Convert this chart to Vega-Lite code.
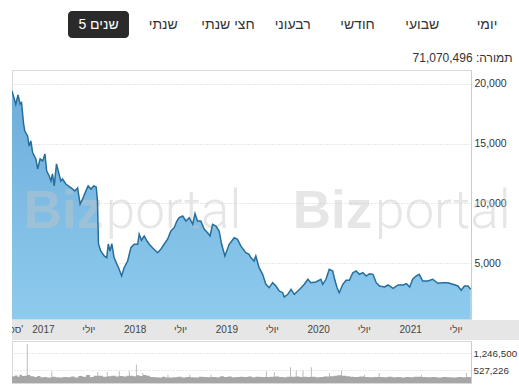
{
  "$schema": "https://vega.github.io/schema/vega-lite/v6.json",
  "padding": {"left": 11, "top": 0, "right": 0, "bottom": 0},
  "spacing": 0,
  "background": "white",
  "config": {"view": {"stroke": null}, "font": "Liberation Sans"},
  "resolve": {"scale": {"x": "independent", "y": "independent"}},
  "datasets": {
    "tabs": [
      {"tab": "יומי"}, {"tab": "שבועי"}, {"tab": "חודשי"}, {"tab": "רבעוני"},
      {"tab": "חצי שנתי"}, {"tab": "שנתי"}, {"tab": "5 שנים"}
    ],
    "ticks": [
      {"date": "2016-09-01", "label": "ספט'"},
      {"date": "2017-01-01", "label": "2017"},
      {"date": "2017-07-01", "label": "יולי"},
      {"date": "2018-01-01", "label": "2018"},
      {"date": "2018-07-01", "label": "יולי"},
      {"date": "2019-01-01", "label": "2019"},
      {"date": "2019-07-01", "label": "יולי"},
      {"date": "2020-01-01", "label": "2020"},
      {"date": "2020-07-01", "label": "יולי"},
      {"date": "2021-01-01", "label": "2021"},
      {"date": "2021-07-01", "label": "יולי"}
    ],
    "price": [
      {"date": "2016-08-29", "price": 19420},
      {"date": "2016-09-05", "price": 18900},
      {"date": "2016-09-13", "price": 18300},
      {"date": "2016-09-22", "price": 19080},
      {"date": "2016-09-30", "price": 18330},
      {"date": "2016-10-06", "price": 18440},
      {"date": "2016-10-14", "price": 16650},
      {"date": "2016-10-19", "price": 16060},
      {"date": "2016-10-30", "price": 15645},
      {"date": "2016-11-05", "price": 14800},
      {"date": "2016-11-12", "price": 15230},
      {"date": "2016-11-19", "price": 14250},
      {"date": "2016-12-02", "price": 13720},
      {"date": "2016-12-09", "price": 12880},
      {"date": "2016-12-19", "price": 13720},
      {"date": "2016-12-29", "price": 13550},
      {"date": "2017-01-07", "price": 14140},
      {"date": "2017-01-14", "price": 12710},
      {"date": "2017-01-24", "price": 12290},
      {"date": "2017-01-31", "price": 11875},
      {"date": "2017-02-06", "price": 12460},
      {"date": "2017-02-13", "price": 11460},
      {"date": "2017-02-22", "price": 13300},
      {"date": "2017-03-01", "price": 12710},
      {"date": "2017-03-11", "price": 11875},
      {"date": "2017-03-18", "price": 12040},
      {"date": "2017-03-31", "price": 11620},
      {"date": "2017-04-20", "price": 11310},
      {"date": "2017-05-06", "price": 11040},
      {"date": "2017-05-17", "price": 11290},
      {"date": "2017-05-27", "price": 9920},
      {"date": "2017-06-06", "price": 10370},
      {"date": "2017-06-19", "price": 11040},
      {"date": "2017-06-28", "price": 11460},
      {"date": "2017-07-09", "price": 11200},
      {"date": "2017-07-20", "price": 11460},
      {"date": "2017-07-30", "price": 11370},
      {"date": "2017-08-04", "price": 10200},
      {"date": "2017-08-08", "price": 6595},
      {"date": "2017-08-17", "price": 6010},
      {"date": "2017-08-31", "price": 5590},
      {"date": "2017-09-10", "price": 5450},
      {"date": "2017-09-16", "price": 6595},
      {"date": "2017-09-23", "price": 6010},
      {"date": "2017-09-30", "price": 6620},
      {"date": "2017-10-09", "price": 5450},
      {"date": "2017-10-20", "price": 4920},
      {"date": "2017-10-29", "price": 4500},
      {"date": "2017-11-08", "price": 3915},
      {"date": "2017-11-18", "price": 4610},
      {"date": "2017-12-02", "price": 5170},
      {"date": "2017-12-15", "price": 6285},
      {"date": "2017-12-28", "price": 6570},
      {"date": "2018-01-11", "price": 6570},
      {"date": "2018-01-17", "price": 7410},
      {"date": "2018-01-26", "price": 6905},
      {"date": "2018-02-06", "price": 7265},
      {"date": "2018-02-17", "price": 6845},
      {"date": "2018-02-26", "price": 6570},
      {"date": "2018-03-11", "price": 6285},
      {"date": "2018-03-31", "price": 5866},
      {"date": "2018-04-13", "price": 6150},
      {"date": "2018-04-26", "price": 6570},
      {"date": "2018-05-10", "price": 6990},
      {"date": "2018-05-23", "price": 7684},
      {"date": "2018-06-05", "price": 7960},
      {"date": "2018-06-16", "price": 8520},
      {"date": "2018-06-25", "price": 8800},
      {"date": "2018-07-09", "price": 8940},
      {"date": "2018-07-22", "price": 8520},
      {"date": "2018-08-04", "price": 8800},
      {"date": "2018-08-18", "price": 8245},
      {"date": "2018-08-27", "price": 9135},
      {"date": "2018-09-06", "price": 8520},
      {"date": "2018-09-19", "price": 8520},
      {"date": "2018-10-03", "price": 7825},
      {"date": "2018-10-16", "price": 7540},
      {"date": "2018-10-26", "price": 7265},
      {"date": "2018-11-05", "price": 8245},
      {"date": "2018-11-18", "price": 8100},
      {"date": "2018-12-01", "price": 7684},
      {"date": "2018-12-11", "price": 6570},
      {"date": "2018-12-24", "price": 5590},
      {"date": "2019-01-10", "price": 6570},
      {"date": "2019-01-30", "price": 7120},
      {"date": "2019-02-12", "price": 6990},
      {"date": "2019-02-25", "price": 6430},
      {"date": "2019-03-17", "price": 5866},
      {"date": "2019-03-30", "price": 5730},
      {"date": "2019-04-06", "price": 5450},
      {"date": "2019-04-19", "price": 5170},
      {"date": "2019-04-26", "price": 5590},
      {"date": "2019-05-09", "price": 4610},
      {"date": "2019-05-23", "price": 4055},
      {"date": "2019-06-05", "price": 3218},
      {"date": "2019-06-18", "price": 2933},
      {"date": "2019-07-02", "price": 3352},
      {"date": "2019-07-15", "price": 3075},
      {"date": "2019-07-28", "price": 2656},
      {"date": "2019-08-11", "price": 2514},
      {"date": "2019-08-17", "price": 2154},
      {"date": "2019-08-31", "price": 2380},
      {"date": "2019-09-13", "price": 2800},
      {"date": "2019-09-26", "price": 2380},
      {"date": "2019-10-10", "price": 2656},
      {"date": "2019-10-23", "price": 2933},
      {"date": "2019-11-05", "price": 3218},
      {"date": "2019-11-19", "price": 3637},
      {"date": "2019-12-01", "price": 3352},
      {"date": "2019-12-21", "price": 3410},
      {"date": "2020-01-10", "price": 3637},
      {"date": "2020-01-17", "price": 3218},
      {"date": "2020-01-30", "price": 3637},
      {"date": "2020-02-12", "price": 4475},
      {"date": "2020-02-26", "price": 4333},
      {"date": "2020-03-03", "price": 3770},
      {"date": "2020-03-14", "price": 2933},
      {"date": "2020-03-23", "price": 2514},
      {"date": "2020-04-06", "price": 3218},
      {"date": "2020-04-19", "price": 3553},
      {"date": "2020-05-02", "price": 3553},
      {"date": "2020-05-16", "price": 4190},
      {"date": "2020-05-29", "price": 4333},
      {"date": "2020-06-11", "price": 4055},
      {"date": "2020-06-25", "price": 4190},
      {"date": "2020-07-08", "price": 3913},
      {"date": "2020-07-21", "price": 4106},
      {"date": "2020-08-04", "price": 4055},
      {"date": "2020-08-17", "price": 3352},
      {"date": "2020-08-30", "price": 3075},
      {"date": "2020-09-19", "price": 2990},
      {"date": "2020-10-03", "price": 3160},
      {"date": "2020-10-23", "price": 2880},
      {"date": "2020-11-12", "price": 3160},
      {"date": "2020-12-02", "price": 3160},
      {"date": "2020-12-15", "price": 3270},
      {"date": "2020-12-28", "price": 2990},
      {"date": "2021-01-09", "price": 3637},
      {"date": "2021-01-22", "price": 3913},
      {"date": "2021-02-04", "price": 4055},
      {"date": "2021-02-18", "price": 3494},
      {"date": "2021-03-10", "price": 3494},
      {"date": "2021-03-30", "price": 3637},
      {"date": "2021-04-19", "price": 3300},
      {"date": "2021-05-09", "price": 3352},
      {"date": "2021-05-29", "price": 3352},
      {"date": "2021-06-18", "price": 3218},
      {"date": "2021-07-08", "price": 3075},
      {"date": "2021-07-21", "price": 2715},
      {"date": "2021-08-03", "price": 3075},
      {"date": "2021-08-17", "price": 3075},
      {"date": "2021-08-28", "price": 2800}
    ],
    "volume": [
      {"date": "2016-08-29", "vol": 280000},
      {"date": "2016-09-10", "vol": 310000},
      {"date": "2016-09-20", "vol": 260000},
      {"date": "2016-09-28", "vol": 340000},
      {"date": "2016-10-08", "vol": 290000},
      {"date": "2016-10-18", "vol": 300000},
      {"date": "2016-10-27", "vol": 1620000},
      {"date": "2016-10-30", "vol": 330000},
      {"date": "2016-11-10", "vol": 280000},
      {"date": "2016-11-25", "vol": 250000},
      {"date": "2016-12-08", "vol": 290000},
      {"date": "2016-12-20", "vol": 240000},
      {"date": "2017-01-03", "vol": 250000},
      {"date": "2017-01-15", "vol": 230000},
      {"date": "2017-02-02", "vol": 486000},
      {"date": "2017-02-05", "vol": 260000},
      {"date": "2017-02-18", "vol": 240000},
      {"date": "2017-03-05", "vol": 230000},
      {"date": "2017-03-20", "vol": 250000},
      {"date": "2017-04-05", "vol": 240000},
      {"date": "2017-04-20", "vol": 270000},
      {"date": "2017-05-05", "vol": 230000},
      {"date": "2017-05-20", "vol": 290000},
      {"date": "2017-06-05", "vol": 260000},
      {"date": "2017-06-20", "vol": 330000},
      {"date": "2017-07-05", "vol": 250000},
      {"date": "2017-07-20", "vol": 300000},
      {"date": "2017-08-04", "vol": 457000},
      {"date": "2017-08-07", "vol": 300000},
      {"date": "2017-08-25", "vol": 260000},
      {"date": "2017-09-10", "vol": 457000},
      {"date": "2017-09-13", "vol": 280000},
      {"date": "2017-09-28", "vol": 300000},
      {"date": "2017-10-15", "vol": 270000},
      {"date": "2017-10-28", "vol": 486000},
      {"date": "2017-10-31", "vol": 290000},
      {"date": "2017-11-15", "vol": 270000},
      {"date": "2017-11-28", "vol": 300000},
      {"date": "2017-12-07", "vol": 486000},
      {"date": "2017-12-10", "vol": 300000},
      {"date": "2017-12-24", "vol": 280000},
      {"date": "2018-01-04", "vol": 760000},
      {"date": "2018-01-07", "vol": 320000},
      {"date": "2018-01-18", "vol": 290000},
      {"date": "2018-01-30", "vol": 415000},
      {"date": "2018-02-02", "vol": 330000},
      {"date": "2018-02-15", "vol": 300000},
      {"date": "2018-03-01", "vol": 250000},
      {"date": "2018-03-18", "vol": 240000},
      {"date": "2018-04-02", "vol": 230000},
      {"date": "2018-04-18", "vol": 260000},
      {"date": "2018-05-02", "vol": 230000},
      {"date": "2018-05-10", "vol": 345000},
      {"date": "2018-05-13", "vol": 230000},
      {"date": "2018-06-01", "vol": 240000},
      {"date": "2018-06-18", "vol": 260000},
      {"date": "2018-07-05", "vol": 230000},
      {"date": "2018-07-20", "vol": 250000},
      {"date": "2018-08-05", "vol": 340000},
      {"date": "2018-08-08", "vol": 240000},
      {"date": "2018-08-25", "vol": 230000},
      {"date": "2018-09-12", "vol": 260000},
      {"date": "2018-09-28", "vol": 250000},
      {"date": "2018-10-15", "vol": 240000},
      {"date": "2018-10-28", "vol": 340000},
      {"date": "2018-10-31", "vol": 250000},
      {"date": "2018-11-18", "vol": 240000},
      {"date": "2018-12-05", "vol": 280000},
      {"date": "2018-12-20", "vol": 250000},
      {"date": "2019-01-05", "vol": 270000},
      {"date": "2019-01-20", "vol": 240000},
      {"date": "2019-02-05", "vol": 250000},
      {"date": "2019-02-20", "vol": 260000},
      {"date": "2019-03-08", "vol": 250000},
      {"date": "2019-03-25", "vol": 270000},
      {"date": "2019-04-10", "vol": 240000},
      {"date": "2019-04-25", "vol": 260000},
      {"date": "2019-05-15", "vol": 250000},
      {"date": "2019-06-05", "vol": 486000},
      {"date": "2019-06-08", "vol": 250000},
      {"date": "2019-06-22", "vol": 260000},
      {"date": "2019-07-07", "vol": 457000},
      {"date": "2019-07-10", "vol": 270000},
      {"date": "2019-07-28", "vol": 250000},
      {"date": "2019-08-12", "vol": 240000},
      {"date": "2019-08-28", "vol": 260000},
      {"date": "2019-09-09", "vol": 652000},
      {"date": "2019-09-12", "vol": 260000},
      {"date": "2019-10-02", "vol": 511000},
      {"date": "2019-10-05", "vol": 270000},
      {"date": "2019-10-18", "vol": 250000},
      {"date": "2019-10-29", "vol": 511000},
      {"date": "2019-11-01", "vol": 260000},
      {"date": "2019-11-15", "vol": 250000},
      {"date": "2019-12-01", "vol": 652000},
      {"date": "2019-12-04", "vol": 260000},
      {"date": "2019-12-20", "vol": 240000},
      {"date": "2020-01-05", "vol": 250000},
      {"date": "2020-01-20", "vol": 270000},
      {"date": "2020-02-12", "vol": 415000},
      {"date": "2020-02-15", "vol": 280000},
      {"date": "2020-03-01", "vol": 300000},
      {"date": "2020-03-15", "vol": 320000},
      {"date": "2020-03-31", "vol": 525000},
      {"date": "2020-04-03", "vol": 300000},
      {"date": "2020-04-20", "vol": 280000},
      {"date": "2020-05-05", "vol": 260000},
      {"date": "2020-05-20", "vol": 250000},
      {"date": "2020-06-10", "vol": 270000},
      {"date": "2020-06-29", "vol": 345000},
      {"date": "2020-07-02", "vol": 250000},
      {"date": "2020-07-20", "vol": 240000},
      {"date": "2020-08-05", "vol": 250000},
      {"date": "2020-08-27", "vol": 415000},
      {"date": "2020-08-30", "vol": 250000},
      {"date": "2020-09-15", "vol": 240000},
      {"date": "2020-10-01", "vol": 260000},
      {"date": "2020-10-20", "vol": 240000},
      {"date": "2020-11-05", "vol": 250000},
      {"date": "2020-11-25", "vol": 230000},
      {"date": "2020-12-10", "vol": 250000},
      {"date": "2020-12-28", "vol": 240000},
      {"date": "2021-01-15", "vol": 260000},
      {"date": "2021-02-11", "vol": 340000},
      {"date": "2021-02-14", "vol": 250000},
      {"date": "2021-03-05", "vol": 240000},
      {"date": "2021-03-25", "vol": 250000},
      {"date": "2021-04-15", "vol": 230000},
      {"date": "2021-05-05", "vol": 250000},
      {"date": "2021-05-25", "vol": 240000},
      {"date": "2021-06-15", "vol": 230000},
      {"date": "2021-07-05", "vol": 250000},
      {"date": "2021-07-25", "vol": 240000},
      {"date": "2021-08-10", "vol": 415000},
      {"date": "2021-08-13", "vol": 250000},
      {"date": "2021-08-29", "vol": 250000}
    ]
  },
  "vconcat": [
    {
      "width": 508,
      "height": 51,
      "data": {"name": "tabs"},
      "encoding": {
        "x": {
          "field": "tab",
          "type": "nominal",
          "scale": {
            "type": "band",
            "domain": ["5 שנים", "שנתי", "חצי שנתי", "רבעוני", "חודשי", "שבועי", "יומי"],
            "range": [56, 505.5],
            "paddingInner": 0.058,
            "paddingOuter": 0
          },
          "axis": null
        },
        "y": {
          "datum": "tabs",
          "type": "nominal",
          "scale": {"type": "band", "domain": ["tabs"], "range": [11, 38], "paddingInner": 0, "paddingOuter": 0},
          "axis": null
        }
      },
      "layer": [
        {
          "transform": [{"filter": "datum.tab == '5 שנים'"}],
          "mark": {"type": "bar", "color": "#2a2a2a", "cornerRadius": 4}
        },
        {
          "mark": {"type": "text", "font": "Liberation Sans", "fontSize": 14, "baseline": "middle"},
          "encoding": {
            "text": {"field": "tab"},
            "color": {
              "condition": {"test": "datum.tab == '5 שנים'", "value": "white"},
              "value": "#333333"
            }
          }
        }
      ]
    },
    {
      "width": 459,
      "height": 249,
      "title": {
        "text": "תמורה: 71,070,496",
        "anchor": "end",
        "frame": "bounds",
        "font": "Liberation Sans",
        "fontSize": 12,
        "fontWeight": "normal",
        "color": "#333333",
        "offset": 5,
        "dx": 2
      },
      "view": {"stroke": "#d9d9d9"},
      "layer": [
        {
          "data": {"name": "price"},
          "mark": {
            "type": "area",
            "clip": true,
            "color": {
              "gradient": "linear", "x1": 0, "y1": 0, "x2": 0, "y2": 1,
              "stops": [{"offset": 0, "color": "#6eaedb"}, {"offset": 1, "color": "#8fcbee"}]
            }
          },
          "encoding": {
            "x": {
              "field": "date",
              "type": "temporal",
              "scale": {"domain": [{"year": 2016, "month": 8, "date": 29}, {"year": 2021, "month": 8, "date": 29}]},
              "axis": null
            },
            "y": {
              "field": "price",
              "type": "quantitative",
              "scale": {"domain": [310, 21170], "zero": false, "nice": false},
              "axis": {
                "orient": "right",
                "values": [5000, 10000, 15000, 20000],
                "format": ",d",
                "title": null,
                "ticks": false,
                "labelPadding": 3,
                "labelFont": "Liberation Sans",
                "labelFontSize": 10.5,
                "labelColor": "#333333",
                "domainColor": "#cccccc",
                "grid": true,
                "gridColor": "#d0d0d0",
                "gridDash": [1, 2]
              }
            }
          }
        },
        {
          "data": {"values": [{"w": "Biz"}]},
          "mark": {"type": "text", "align": "left", "baseline": "alphabetic", "font": "Liberation Sans", "fontWeight": "bold", "fontSize": 53, "color": "#c6c6c6", "opacity": 0.42},
          "encoding": {
            "x": {"datum": {"year": 2016, "month": 10, "date": 15}, "type": "temporal"},
            "y": {"datum": 7900, "type": "quantitative"},
            "text": {"field": "w"}
          }
        },
        {
          "data": {"values": [{"w": "portal"}]},
          "mark": {"type": "text", "align": "left", "baseline": "alphabetic", "font": "Roboto", "fontWeight": 300, "fontSize": 53, "color": "#c6c6c6", "opacity": 0.42},
          "encoding": {
            "x": {"datum": {"year": 2017, "month": 9, "date": 6}, "type": "temporal"},
            "y": {"datum": 7900, "type": "quantitative"},
            "text": {"field": "w"}
          }
        },
        {
          "data": {"values": [{"w": "Biz"}]},
          "mark": {"type": "text", "align": "left", "baseline": "alphabetic", "font": "Liberation Sans", "fontWeight": "bold", "fontSize": 53, "color": "#c6c6c6", "opacity": 0.42},
          "encoding": {
            "x": {"datum": {"year": 2019, "month": 9, "date": 20}, "type": "temporal"},
            "y": {"datum": 7900, "type": "quantitative"},
            "text": {"field": "w"}
          }
        },
        {
          "data": {"values": [{"w": "portal"}]},
          "mark": {"type": "text", "align": "left", "baseline": "alphabetic", "font": "Roboto", "fontWeight": 300, "fontSize": 53, "color": "#c6c6c6", "opacity": 0.42},
          "encoding": {
            "x": {"datum": {"year": 2020, "month": 8, "date": 12}, "type": "temporal"},
            "y": {"datum": 7900, "type": "quantitative"},
            "text": {"field": "w"}
          }
        },
        {
          "data": {"name": "price"},
          "mark": {"type": "line", "color": "#266e9b", "strokeWidth": 1.5, "clip": true},
          "encoding": {
            "x": {"field": "date", "type": "temporal"},
            "y": {"field": "price", "type": "quantitative"}
          }
        }
      ]
    },
    {
      "width": 508,
      "height": 20,
      "view": {"fill": "#e6e6e6", "stroke": null},
      "data": {"name": "ticks"},
      "mark": {"type": "text", "clip": true, "font": "Liberation Sans", "fontSize": 10, "color": "#444444", "baseline": "middle"},
      "encoding": {
        "x": {
          "field": "date",
          "type": "temporal",
          "scale": {"domain": [{"year": 2016, "month": 8, "date": 29}, {"year": 2021, "month": 8, "date": 29}], "range": [0, 459]},
          "axis": null
        },
        "text": {"field": "label"}
      }
    },
    {
      "width": 459,
      "height": 42,
      "view": {"stroke": "#d9d9d9"},
      "data": {"name": "volume"},
      "mark": {"type": "area", "interpolate": "step-after", "color": "#a6a6a6", "clip": true},
      "encoding": {
        "x": {
          "field": "date",
          "type": "temporal",
          "scale": {"domain": [{"year": 2016, "month": 8, "date": 29}, {"year": 2021, "month": 8, "date": 29}]},
          "axis": null
        },
        "y": {
          "field": "vol",
          "type": "quantitative",
          "scale": {"domain": [0, 1750000], "nice": false},
          "axis": {
            "orient": "right",
            "values": [527226, 1246500],
            "format": ",d",
            "title": null,
            "ticks": false,
            "labelPadding": 2,
            "labelFont": "Liberation Sans",
            "labelFontSize": 9.8,
            "labelColor": "#333333",
            "domainColor": "#cccccc",
            "grid": true,
            "gridColor": "#d0d0d0",
            "gridDash": [1, 2]
          }
        }
      }
    }
  ]
}
